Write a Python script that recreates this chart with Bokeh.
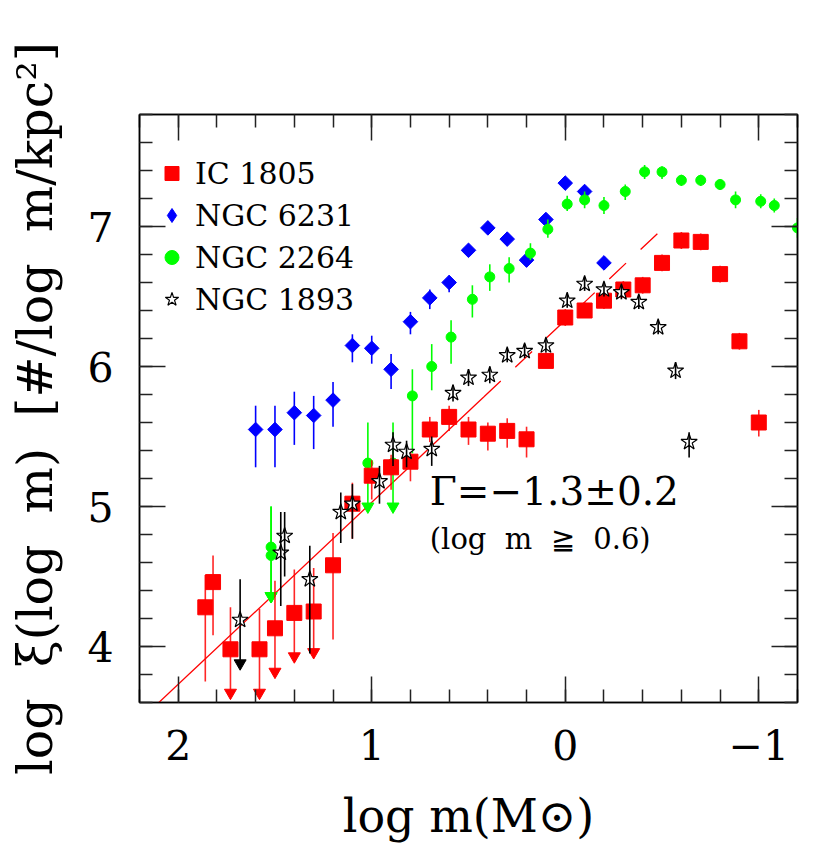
import numpy as np
from bokeh.plotting import figure
from bokeh.models import (Range1d, LinearAxis, SingleIntervalTicker, Legend, LegendItem,
                          Label, ColumnDataSource, CustomJSTickFormatter)
from bokeh.embed import file_html
from bokeh.resources import INLINE

# ---------------- data ----------------
ic1805_x = [1.86, 1.82, 1.73, 1.58, 1.50, 1.40, 1.30, 1.20, 1.10, 1.00, 0.90, 0.80, 0.70, 0.60,
            0.50, 0.40, 0.30, 0.20, 0.10, 0.00, -0.10, -0.20, -0.30, -0.40, -0.50, -0.60, -0.70,
            -0.80, -0.90, -1.00]
ic1805_y = [4.28, 4.46, 3.98, 3.98, 4.13, 4.24, 4.25, 4.58, 5.02, 5.22, 5.28, 5.32, 5.55, 5.64,
            5.55, 5.52, 5.54, 5.48, 6.04, 6.35, 6.40, 6.47, 6.55, 6.58, 6.74, 6.90, 6.89,
            6.66, 6.18, 5.60]
ic1805_hi = [4.51, 4.65, 4.28, 4.27, 4.47, 4.55, 4.56, 4.81, 5.17, 5.33, 5.37, 5.40, 5.64, 5.72,
             5.64, 5.60, 5.63, 5.57, 6.10, 6.41, 6.46, 6.53, 6.61, 6.64, 6.80, 6.96, 6.95,
             6.72, 6.24, 5.69]
ic1805_lo = [3.75, 4.08, 3.67, 3.67, 3.82, 3.93, 3.96, 4.05, 4.77, 5.05, 5.12, 5.18, 5.46, 5.54,
             5.44, 5.40, 5.42, 5.35, 5.99, 6.29, 6.35, 6.41, 6.49, 6.52, 6.68, 6.84, 6.83,
             6.60, 6.12, 5.50]
ic1805_limit = [0, 0, 1, 1, 1, 1, 1, 0, 0, 0, 0, 0, 0, 0, 0, 0, 0, 0, 0, 0, 0, 0, 0, 0, 0, 0, 0,
                0, 0, 0]

ngc6231_x = [1.6, 1.5, 1.4, 1.3, 1.2, 1.1, 1.0, 0.9, 0.8, 0.7, 0.6, 0.5, 0.4, 0.3, 0.2, 0.1,
             0.0, -0.1, -0.2]
ngc6231_y = [5.55, 5.55, 5.67, 5.65, 5.76, 6.15, 6.13, 5.98, 6.32, 6.49, 6.60, 6.83, 6.99, 6.91,
             6.76, 7.05, 7.31, 7.25, 6.74]
ngc6231_hi = [5.72, 5.72, 5.82, 5.79, 5.89, 6.23, 6.22, 6.09, 6.39, 6.55, 6.65, 6.87, 7.03, 6.95,
              6.80, 7.09, 7.35, 7.29, 6.78]
ngc6231_lo = [5.28, 5.28, 5.44, 5.41, 5.57, 6.03, 6.02, 5.84, 6.23, 6.41, 6.53, 6.79, 6.95, 6.87,
              6.72, 7.01, 7.27, 7.21, 6.70]

ngc2264_x = [1.52, 1.52, 1.02, 0.89, 0.79, 0.69, 0.59, 0.48, 0.39, 0.29, 0.18, 0.09, -0.01,
             -0.10, -0.20, -0.31, -0.41, -0.50, -0.60, -0.70, -0.80, -0.88, -1.01, -1.08, -1.20]
ngc2264_y = [4.71, 4.65, 5.31, 5.31, 5.79, 6.00, 6.21, 6.48, 6.64, 6.70, 6.81, 6.98, 7.16,
             7.19, 7.15, 7.25, 7.39, 7.39, 7.33, 7.33, 7.30, 7.19, 7.18, 7.15, 6.99]
ngc2264_hi = [5.00, 5.00, 5.60, 5.60, 5.98, 6.16, 6.33, 6.58, 6.73, 6.78, 6.88, 7.05, 7.22,
              7.25, 7.21, 7.30, 7.44, 7.43, 7.37, 7.37, 7.34, 7.25, 7.23, 7.20, 7.06]
ngc2264_lo = [4.36, 4.36, 5.00, 5.00, 5.38, 5.83, 6.02, 6.35, 6.54, 6.60, 6.76, 6.92, 7.11,
              7.13, 7.09, 7.19, 7.34, 7.34, 7.29, 7.29, 7.26, 7.13, 7.13, 7.10, 6.92]
ngc2264_limit = [1, 1, 1, 1, 0, 0, 0, 0, 0, 0, 0, 0, 0, 0, 0, 0, 0, 0, 0, 0, 0, 0, 0, 0, 0]

ngc1893_x = [1.68, 1.47, 1.45, 1.32, 1.16, 1.10, 0.96, 0.89, 0.82, 0.69, 0.58, 0.50, 0.39,
             0.30, 0.21, 0.10, -0.01, -0.10, -0.20, -0.29, -0.38, -0.48, -0.57, -0.64]
ngc1893_y = [4.19, 4.67, 4.79, 4.48, 4.96, 5.02, 5.18, 5.44, 5.39, 5.41, 5.81, 5.92, 5.94,
             6.08, 6.11, 6.15, 6.47, 6.59, 6.55, 6.53, 6.46, 6.28, 5.97, 5.46]
ngc1893_hi = [4.48, 4.96, 4.96, 4.72, 5.10, 5.16, 5.29, 5.53, 5.47, 5.50, 5.87, 5.98, 6.00,
              6.13, 6.16, 6.20, 6.52, 6.64, 6.60, 6.58, 6.51, 6.33, 6.03, 5.53]
ngc1893_lo = [3.88, 4.29, 4.50, 3.95, 4.74, 4.77, 5.02, 5.29, 5.28, 5.29, 5.75, 5.86, 5.88,
              6.03, 6.06, 6.10, 6.42, 6.54, 6.50, 6.48, 6.41, 6.23, 5.91, 5.35]
ngc1893_limit = [1, 0, 0, 0, 0, 0, 0, 0, 0, 0, 0, 0, 0, 0, 0, 0, 0, 0, 0, 0, 0, 0, 0, 0]

# power-law fit  log xi = c + Gamma * log m
fit_gamma = -1.3
fit_const = 6.33
fit_solid_x = [2.3, 0.42]
fit_dash_x = [0.42, -0.5]

SERIF = "DejaVu Serif"
NB = "\u00a0"

p = figure(width=822, height=854, x_range=Range1d(2.2, -1.2), y_range=Range1d(3.6, 7.8),
           output_backend="svg", toolbar_location=None,
           min_border_left=139, min_border_right=25, min_border_top=114, min_border_bottom=152,
           x_axis_label="log m(M⊙)",
           y_axis_label=f"log{NB} ξ(log{NB} m){NB} [#/log{NB} m/kpc²]")
p.grid.grid_line_color = None
p.outline_line_color = "black"
p.outline_line_width = 1.5
p.background_fill_color = "white"
p.border_fill_color = "white"


def style_axis(ax, labels=True):
    ax.axis_line_color = "black"
    ax.axis_line_width = 1.5
    ax.major_tick_in = 26
    ax.major_tick_out = 0
    ax.minor_tick_in = 13
    ax.minor_tick_out = 0
    ax.major_tick_line_color = "#222222"
    ax.minor_tick_line_color = "#222222"
    ax.major_tick_line_width = 1.5
    ax.minor_tick_line_width = 1.5
    ax.major_label_text_font = SERIF
    ax.major_label_text_font_size = "41px"
    ax.major_label_text_color = "black"
    ax.axis_label_text_font = SERIF
    ax.axis_label_text_font_size = "46px"
    ax.axis_label_text_font_style = "normal"
    ax.axis_label_text_color = "black"
    if not labels:
        ax.formatter = CustomJSTickFormatter(code="return ''")
        ax.major_label_text_font_size = "1px"


for ax in p.xaxis:
    ax.ticker = SingleIntervalTicker(interval=1, num_minor_ticks=5)
    style_axis(ax)
    ax.major_label_standoff = 27
    ax.axis_label_standoff = 26
    ax.major_label_overrides = {-1: "−1"}
for ax in p.yaxis:
    ax.ticker = SingleIntervalTicker(interval=1, num_minor_ticks=5)
    style_axis(ax)
    ax.major_label_standoff = 26
    ax.axis_label_standoff = 20
    ax.axis_label_text_font_size = "49px"
    ax.major_label_orientation = "horizontal"

top_ax = LinearAxis(ticker=SingleIntervalTicker(interval=1, num_minor_ticks=5))
style_axis(top_ax, labels=False)
p.add_layout(top_ax, "above")
right_ax = LinearAxis(ticker=SingleIntervalTicker(interval=1, num_minor_ticks=5))
style_axis(right_ax, labels=False)
p.add_layout(right_ax, "right")

# fit line
fs_y = [fit_const + fit_gamma * v for v in fit_solid_x]
fd_y = [fit_const + fit_gamma * v for v in fit_dash_x]
p.line(fit_solid_x, fs_y, line_color="red", line_width=1.3)
p.line(fit_dash_x, fd_y, line_color="red", line_width=1.3, line_dash="23 20")


def series(xs, ys, lo, hi, limit, bar_color, bar_alpha, bars_on_top=False, **marker_kw):
    src = ColumnDataSource(dict(x=xs, y=ys, lo=lo, hi=hi))
    if bars_on_top:
        r = p.scatter(x="x", y="y", source=src, **marker_kw)
    p.segment(x0="x", y0="lo", x1="x", y1="hi", source=src, line_color=bar_color,
              line_width=1.6, line_alpha=bar_alpha)
    if limit is not None:
        lx = [a for a, f in zip(xs, limit) if f]
        ly = [b for b, f in zip(lo, limit) if f]
        p.scatter(lx, ly, marker="inverted_triangle", size=12, fill_color=bar_color,
                  line_color=bar_color)
    if not bars_on_top:
        r = p.scatter(x="x", y="y", source=src, **marker_kw)
    return r


# NGC 6231: diamonds drawn as 45-degree squares (near-square aspect like the original)
series(ngc6231_x, ngc6231_y, ngc6231_lo, ngc6231_hi, None, "blue", 1.0,
       marker="square", angle=np.pi / 4, size=10.3, fill_color="blue", line_color="blue")
# legend key for NGC 6231 (one off-canvas NaN point; legend keys ignore marker angle)
r_6231_key = p.scatter(x=[np.nan], y=[np.nan], marker="diamond", size=16,
                       fill_color="blue", line_color="blue")
r_2264 = series(ngc2264_x, ngc2264_y, ngc2264_lo, ngc2264_hi, ngc2264_limit,
                "#00ff00", 1.0, marker="circle", size=10, fill_color="#00ff00",
                line_color="#00ff00")
r_1805 = series(ic1805_x, ic1805_y, ic1805_lo, ic1805_hi, ic1805_limit, "#ff0000", 0.85,
                marker="square", size=15, fill_color="red", line_color="red")
r_1893 = series(ngc1893_x, ngc1893_y, ngc1893_lo, ngc1893_hi, ngc1893_limit, "black", 1.0,
                bars_on_top=True, marker="star", size=17, fill_color="white",
                line_color="black", line_width=1.2)

legend = Legend(items=[LegendItem(label="IC 1805", renderers=[r_1805]),
                       LegendItem(label="NGC 6231", renderers=[r_6231_key]),
                       LegendItem(label="NGC 2264", renderers=[r_2264]),
                       LegendItem(label="NGC 1893", renderers=[r_1893])],
                location=(15, 385), orientation="vertical",
                border_line_color=None, background_fill_alpha=0.0,
                label_text_font=SERIF, label_text_font_size="30px", label_text_color="black",
                glyph_width=35, glyph_height=36, label_height=36, spacing=6, padding=5,
                margin=0, label_standoff=6)
p.add_layout(legend)

p.add_layout(Label(x=0.70, y=5.11, text="Γ=−1.3±0.2", text_font=SERIF,
                   text_font_size="39px", text_color="black", text_baseline="alphabetic"))
p.add_layout(Label(x=0.70, y=4.77, text=f"(log{NB} m{NB} ≧{NB} 0.6)", text_font=SERIF,
                   text_font_size="29px", text_color="black", text_baseline="alphabetic"))

open("out.html", "w").write(file_html(p, INLINE))
